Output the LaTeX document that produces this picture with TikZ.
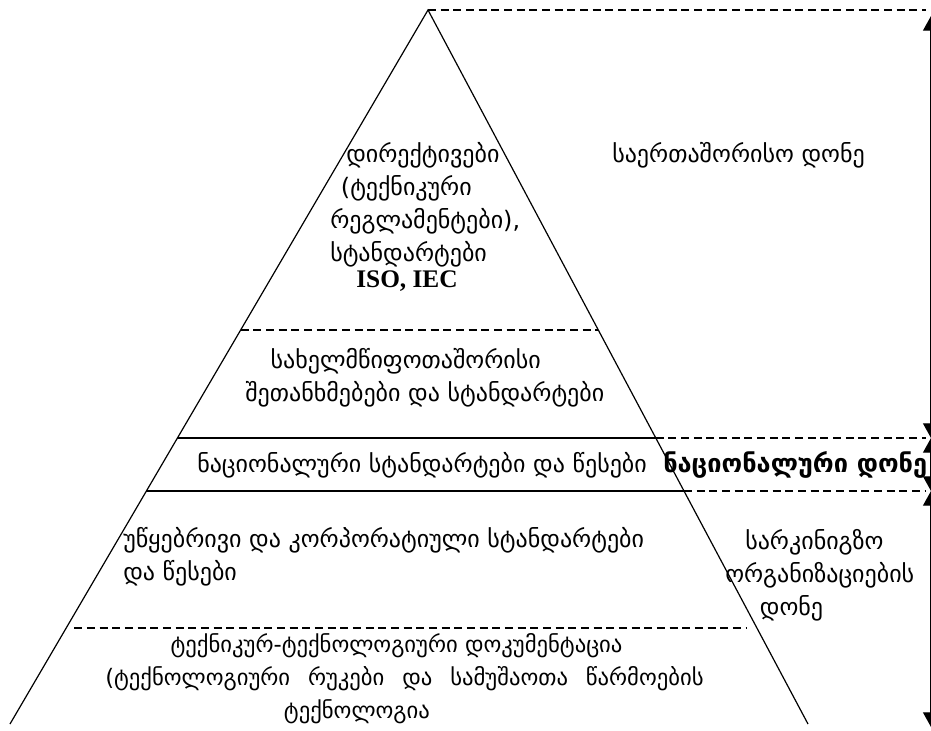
\documentclass[tikz,border=0pt]{standalone}
\usepackage{fontspec}
\setmainfont{DejaVu Sans}
\newfontfamily\isofont{Liberation Serif}
\usetikzlibrary{arrows.meta,calc}

\tikzset{
  geo/.style={inner sep=0pt,anchor=west,align=left,font=\fontsize{18}{24.75}\selectfont},
  solidlevel/.style={line width=0.9pt},
  dashlevel/.style={line width=1.1pt,dash pattern=on 6pt off 3.5pt},
  levelspan/.style={line width=0.9pt,{Triangle[length=11pt,width=12pt]}-{Triangle[length=11pt,width=12pt]}}
}

\begin{document}
\begin{tikzpicture}[x=0.75pt,y=-0.75pt]
  \useasboundingbox (0,0) rectangle (931,731);
  \coordinate (apex) at (428,10);
  \coordinate (lfoot) at (10,724);
  \coordinate (rfoot) at (808,724);
  \coordinate (edge) at (926,0);
  \coordinate (spantop) at (931,16);
  \coordinate (spanbot) at (931,727);
  \draw[solidlevel] (lfoot) -- (apex) -- (rfoot);
  \foreach \y/\lv in {330/a,438/b,491/c,628/d} {
    \path ($(apex)!{(\y-10)/714}!(lfoot)$) coordinate (l\lv)
          ($(apex)!{(\y-10)/714}!(rfoot)$) coordinate (r\lv);
  }
  \draw[dashlevel] (la) -- (ra);
  \draw[solidlevel] (lb) -- (rb);
  \draw[solidlevel] (lc) -- (rc);
  \draw[dashlevel] ($(ld)+(8,0)$) -- ($(rd)+(-11,0)$);
  \draw[dashlevel] (apex) -- (apex -| edge);
  \draw[dashlevel] (rb) -- (rb -| edge);
  \draw[dashlevel] (rc) -- (rc -| edge);
  \draw[levelspan] (spantop) -- (rb -| spantop);
  \draw[levelspan] (rb -| spantop) -- (rc -| spantop);
  \draw[levelspan] (rc -| spantop) -- (spanbot);

  \node[geo] (directives) at (330,205) {\hspace*{12pt}დირექტივები\\\hspace*{8pt}(ტექნიკური\\რეგლამენტები),\\სტანდარტები};
  \node[inner sep=0pt,font=\isofont\bfseries\fontsize{19}{22}\selectfont] (iso) at (407,281) {ISO, IEC};
  \node[geo] (intl) at (612,155) {საერთაშორისო დონე};
  \node[geo] (interstate) at (245,378) {\hspace*{19pt}სახელმწიფოთაშორისი\\შეთანხმებები და სტანდარტები};
  \node[geo] (national) at (197,465) {ნაციონალური სტანდარტები და წესები};
  \node[geo,font=\bfseries\fontsize{19}{24.75}\selectfont] (natlevel) at (663,465) {ნაციონალური დონე};
  \node[geo] (branch) at (123,557) {უწყებრივი და კორპორატიული სტანდარტები\\და წესები};
  \node[geo] (raillevel) at (725,575) {\hspace*{15pt}სარკინიგზო\\ორგანიზაციების\\\hspace*{26pt}დონე};
  \node[geo,font=\fontsize{17}{24.75}\selectfont] (techdoc) at (105,679) {\hspace*{49pt}ტექნიკურ-ტექნოლოგიური დოკუმენტაცია\\(ტექნოლოგიური \hspace{8pt}რუკები \hspace{8pt}და \hspace{8pt}სამუშაოთა \hspace{8pt}წარმოების\\\hspace*{134pt}ტექნოლოგია};
\end{tikzpicture}
\end{document}
